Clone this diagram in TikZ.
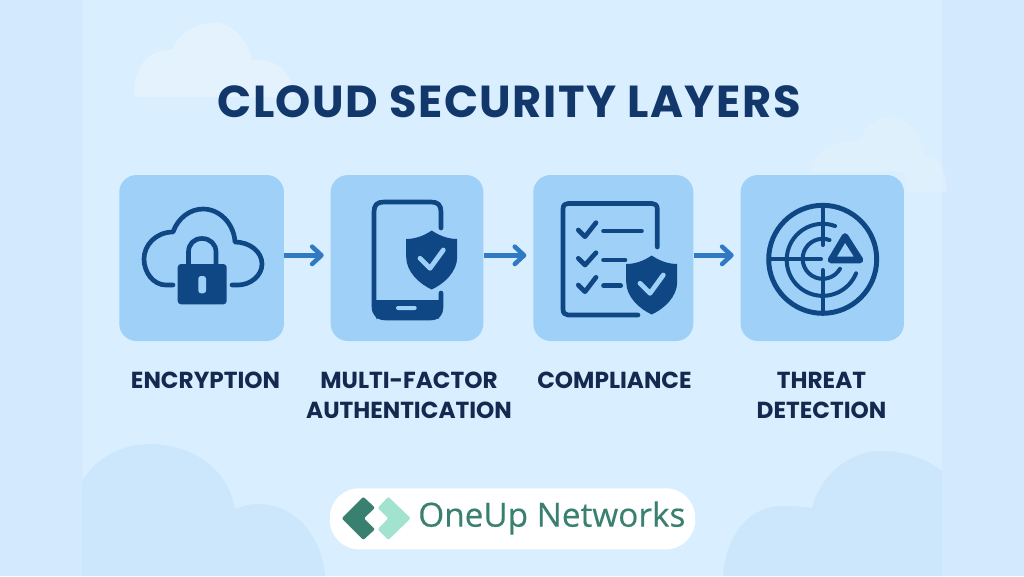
\documentclass[tikz,border=0pt]{standalone}
\usepackage{fontspec}
\setmainfont{Poppins}
\newfontfamily\titlefont[LetterSpace=3.4]{Poppins}
\newfontfamily\logofont[FakeBold=0.35]{Open Sans}
\usetikzlibrary{arrows.meta}
\definecolor{pageblue}{HTML}{D3E9FE}
\definecolor{innerblue}{HTML}{D9EEFE}
\definecolor{pilecloud}{HTML}{CCE7FC}
\definecolor{palecloud}{HTML}{E3F2FD}
\definecolor{cardblue}{HTML}{9FD0F8}
\definecolor{iconblue}{HTML}{0F4785}
\definecolor{arrowblue}{HTML}{2F7AC3}
\definecolor{titleblue}{HTML}{12376B}
\definecolor{labelblue}{HTML}{14294F}
\definecolor{logodark}{HTML}{3A8070}
\definecolor{logolight}{HTML}{A2E3D0}
\tikzset{
  cardbox/.style={fill=cardblue,rounded corners=13pt,inner sep=0pt,minimum height=124.5pt},
  labeltext/.style={font=\fontsize{17.4}{22.5}\selectfont\bfseries,text=labelblue,align=center,inner sep=0pt,anchor=north},
  arrowline/.style={draw=arrowblue,line width=3.4pt,shorten >=5pt,-{Straight Barb[round,length=7pt,width=13pt]}},
  iconline/.style={draw=iconblue,line width=3.5pt,line cap=round,line join=round},
  shieldmark/.pic={
    \fill [iconblue] (0,-29.5) .. controls (8,-24) and (17,-21) .. (25.5,-21) -- (25.5,-3) .. controls (25.5,12) and (12,24) .. (0,29.5) .. controls (-12,24) and (-25.5,12) .. (-25.5,-3) -- (-25.5,-21) .. controls (-17,-21) and (-8,-24) .. (0,-29.5) -- cycle;
    \draw [draw=cardblue,line width=3.6pt,line cap=round,line join=round] (-11.7,-1.7) -- (-1.7,8.3) -- (11.6,-10);
  }
}

\begin{document}
\begin{tikzpicture}[x=0.75pt,y=0.75pt,yscale=-1,xscale=1]
\useasboundingbox (0,0) rectangle (1024,576);

%background
\fill [pageblue] (0,0) rectangle (1024,576);
\fill [innerblue] (83,0) rectangle (942,576);

%top clouds
\fill [palecloud] (135,97) .. controls (132,70) and (145,50) .. (172,49) .. controls (180,30) and (200,22) .. (217,23) .. controls (235,24) and (248,42) .. (252,60) .. controls (270,58) and (290,65) .. (295,97) -- cycle;
\fill [palecloud,opacity=0.6] (810,172) .. controls (812,150) and (835,138) .. (858,142) .. controls (865,125) and (880,116) .. (892,117) .. controls (910,118) and (922,135) .. (925,155) .. controls (938,155) and (947,170) .. (947,192) -- (905,192) -- (905,172) -- cycle;

%bottom clouds
\fill [pilecloud] (82,576) -- (82,482) .. controls (95,458) and (122,444) .. (150,444) .. controls (195,445) and (228,470) .. (235,509) .. controls (275,492) and (320,520) .. (325,576) -- cycle;
\fill [pilecloud] (723,576) .. controls (726,530) and (755,505) .. (782,506) .. controls (795,506) and (805,507) .. (812,508) .. controls (820,475) and (850,451) .. (880,451) .. controls (905,451) and (925,458) .. (942,471) -- (942,576) -- cycle;

%title
\node (titletext) [font=\titlefont\fontsize{33.6}{40}\selectfont\bfseries,text=titleblue,inner sep=0pt] at (509,102) {CLOUD SECURITY LAYERS};

%cards
\node (encbox) [cardbox,minimum width=123.5pt] at (201.6,258) {};
\node (mfabox) [cardbox,minimum width=114.5pt] at (407,258) {};
\node (compbox) [cardbox,minimum width=120pt] at (613.3,258) {};
\node (threatbox) [cardbox,minimum width=122.5pt] at (822.3,258) {};

%arrows
\draw [arrowline] ([yshift=-2pt]encbox.east) -- ([yshift=-2pt]mfabox.west);
\draw [arrowline] ([yshift=-2pt]mfabox.east) -- ([yshift=-2pt]compbox.west);
\draw [arrowline] ([yshift=-2pt]compbox.east) -- ([yshift=-2pt]threatbox.west);

%cloud with lock
\draw [iconline] (173,285) -- (166,285) .. controls (153,285) and (144,272) .. (144,259) .. controls (144,245) and (156,232) .. (173,232) .. controls (178,218) and (190,209) .. (203,209) .. controls (220,209) and (234,224) .. (235,242) .. controls (250,242) and (262,252) .. (262,264) .. controls (262,276) and (250,285) .. (238,285) -- (232,285);
\draw [iconline] (188.5,264) -- (188.5,252) .. controls (188.5,244) and (194,238.5) .. (202,238.5) .. controls (210,238.5) and (216,244) .. (216,252) -- (216,264);
\fill [iconblue,rounded corners=2.5pt] (177.7,264) rectangle (226.7,304.3);
\fill [cardblue,rounded corners=2pt] (198.3,276) rectangle (206,293.3);

%phone
\draw [iconline] (441,228) -- (441,212) .. controls (441,205) and (438,202) .. (431,202) -- (384,202) .. controls (377,202) and (374,205) .. (374,212) -- (374,306) .. controls (374,314) and (378,318) .. (386,318) -- (430,318) .. controls (438,318) and (441,314) .. (441,306) -- (441,293);
\fill [iconblue] (374,300) rectangle (441,306) (376,306) rectangle (439,318.5);
\fill [iconblue] (374,306) .. controls (374,314) and (378,318) .. (386,318) -- (430,318) .. controls (438,318) and (441,314) .. (441,306) -- cycle;
\fill [cardblue,rounded corners=1.5pt] (396,306) rectangle (416.7,310);
\pic [transform shape] at (431.7,260) {shieldmark};

%checklist
\draw [iconline] (657.3,247) -- (657.3,209) .. controls (657.3,205) and (655,203.5) .. (652,203.5) -- (568,203.5) .. controls (565,203.5) and (563,205) .. (563,209) -- (563,309) .. controls (563,313) and (565,315) .. (568,315) -- (638,315);
\draw [iconline] (578.3,230) -- (585,236.7) -- (596,222.7);
\draw [iconline] (578.3,258.3) -- (585,265) -- (596,252.7);
\draw [iconline] (578.3,285) -- (585,291.7) -- (596,277.3);
\draw [iconline] (603.5,231) -- (641.5,231);
\draw [iconline] (603.5,260) -- (625,260);
\draw [iconline] (603.5,285.7) -- (620.7,285.7);
\pic [transform shape] at (651.7,285) {shieldmark};

%radar
\draw [iconline,line width=3.7pt] (822.7,259.3) circle [radius=54];
\draw [iconline,line width=3pt] (822.7,205) -- (822.7,245);
\draw [iconline,line width=3pt] (822.7,270) -- (822.7,314);
\draw [iconline,line width=3pt] (769,259.3) -- (821,259.3);
\draw [iconline,line width=3pt] (835,226) arc [start angle=-70,end angle=-338,radius=36];
\draw [iconline,line width=3pt] (829.5,240) arc [start angle=-70,end angle=-330,radius=20];
\draw [iconline,line width=5pt,fill=cardblue] (845,236.5) -- (860,260) -- (831,260) -- cycle;

%labels
\node (enclabel) [labeltext] at (205.5,371.5) {ENCRYPTION};
\node (mfalabel) [labeltext] at (409,371.5) {MULTI-FACTOR\\AUTHENTICATION};
\node (complabel) [labeltext] at (614.5,371.5) {COMPLIANCE};
\node (threatlabel) [labeltext] at (821.5,371.5) {THREAT\\DETECTION};

%logo pill
\node (logopill) [fill=white,rounded corners=22pt,minimum width=274pt,minimum height=45.8pt,inner sep=0pt] at (512.5,518.8) {};
\fill [logodark,rounded corners=1pt] (341.7,518.3) -- (363.3,496.7) -- (375,507.7) -- (364,518.3) -- (375,529.3) -- (363.3,540) -- cycle;
\fill [logolight,rounded corners=1pt] (377.7,508) -- (388.3,496.7) -- (410.7,518.3) -- (388.3,540) -- (377.7,529.3) -- (388.3,518.3) -- cycle;
\node (logotext) [font=\logofont\fontsize{25}{30}\selectfont,text=logodark,inner sep=0pt,anchor=west] at (418,518) {OneUp Networks};

\end{tikzpicture}
\end{document}
